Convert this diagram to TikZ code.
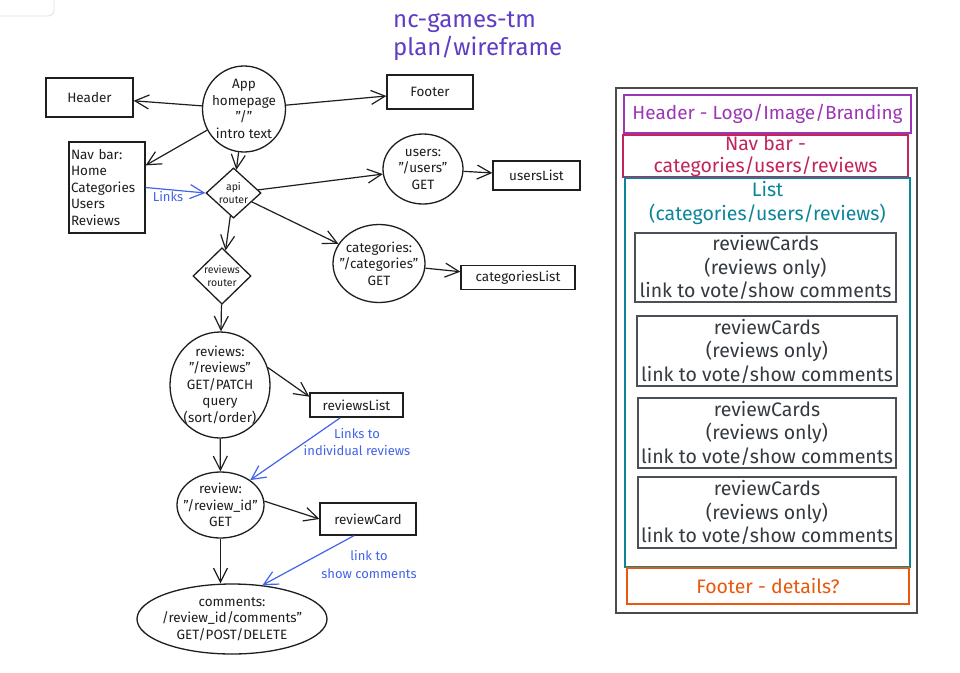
\documentclass[tikz,border=0pt]{standalone}
\usepackage{fontspec}
\setmainfont{Fira Sans}
\usetikzlibrary{arrows.meta,shapes.geometric}
\definecolor{ink}{HTML}{1E1E1E}
\definecolor{linkblue}{HTML}{4263EB}
\definecolor{titlec}{HTML}{5F3DC4}
\definecolor{hdrc}{HTML}{9C36B5}
\definecolor{navc}{HTML}{C2255C}
\definecolor{listc}{HTML}{0C8599}
\definecolor{footc}{HTML}{E8590C}
\definecolor{cardc}{HTML}{495057}
\definecolor{cardt}{HTML}{343A40}
\tikzset{
  box/.style={draw=ink, line width=1.3pt, rectangle, inner sep=0pt, align=center, text=ink, font=\fontsize{13.5}{16.5}\selectfont},
  circ/.style={draw=ink, line width=1.3pt, ellipse, inner sep=0pt},
  ctext/.style={inner sep=0pt, align=center, text=ink, font=\fontsize{13.5}{16.5}\selectfont},
  dia/.style={draw=ink, line width=1.3pt, diamond, inner sep=0pt, align=center, text=ink, font=\fontsize{10.5}{12.5}\selectfont},
  arr/.style={draw=ink, line width=1.2pt, -{Straight Barb[length=14pt,width=14pt,line width=1.2pt]}},
  link/.style={draw=linkblue, line width=1.2pt, -{Straight Barb[length=14pt,width=14pt,line width=1.2pt]}},
  lbl/.style={text=linkblue, inner sep=0pt, align=center, font=\fontsize{13}{17.5}\selectfont},
  pbox/.style={rectangle, line width=1.3pt, inner sep=0pt, align=center, font=\fontsize{19.5}{23.5}\selectfont},
  card/.style={pbox, draw=cardc, text=cardt},
}
\begin{document}
\begin{tikzpicture}[x=1pt,y=-1pt]
\useasboundingbox (0,0) rectangle (960,672);
\fill[white] (0,0) rectangle (960,672);
\draw[black!12, line width=0.8pt, rounded corners=6pt] (-10,-10) rectangle (54,16);

% title
\node[anchor=north west, inner sep=0pt, align=left, text=titlec, font=\fontsize{24}{28}\selectfont] (title) at (393,12) {nc-games-tm\\plan/wireframe};

% left diagram nodes
\node[box, minimum width=87, minimum height=39] (header) at (89.5,97.5) {Header};
\node[circ, minimum width=83, minimum height=86] (app) at (244,109) {};
\node[ctext] (apptext) at (app.center) {App\\homepage\\"/"\\intro text};
\node[box, minimum width=86, minimum height=34] (footer) at (430,92) {Footer};
\node[box, minimum width=76, minimum height=91, text width=72, align=left] (nav) at (107,187.5) {Nav bar:\\Home\\Categories\\Users\\Reviews};
\node[dia, minimum width=55, minimum height=47] (api) at (233.5,193) {api\\router};
\node[circ, minimum width=80, minimum height=70] (users) at (423,169) {};
\node[ctext] (userstext) at (users.center) {users:\\"/users"\\GET};
\node[box, minimum width=87, minimum height=29] (userslist) at (536.5,175.5) {usersList};
\node[circ, minimum width=92, minimum height=78] (cats) at (379,263.5) {};
\node[ctext] (catstext) at (cats.center) {categories:\\"/categories"\\GET};
\node[box, minimum width=114, minimum height=24] (catslist) at (518,277.5) {categoriesList};
\node[dia, minimum width=58, minimum height=46] (rr) at (222,276) {reviews\\router};
\node[circ, minimum width=100, minimum height=106] (reviews) at (220,385) {};
\node[ctext] (reviewstext) at (reviews.center) {reviews:\\"/reviews"\\GET/PATCH\\query\\(sort/order)};
\node[box, minimum width=93, minimum height=24] (reviewslist) at (356.5,405) {reviewsList};
\node[circ, minimum width=87, minimum height=66] (review) at (220.5,505) {};
\node[ctext] (reviewtext) at (review.center) {review:\\"/review\_id"\\GET};
\node[box, minimum width=96, minimum height=32] (reviewcard) at (368,519) {reviewCard};
\node[circ, minimum width=190, minimum height=70] (comments) at (232,619) {};
\node[ctext] (commentstext) at (comments.center) {comments:\\/review\_id/comments"\\GET/POST/DELETE};

% labels
\node[lbl] (linkslbl) at (168,197) {Links};
\node[lbl] (indivlbl) at (357,442) {Links to\\individual reviews};
\node[lbl] (showlbl) at (369,564.5) {link to\\show comments};

% connectors
\draw[arr] (app) -- (header);
\draw[arr] (app) -- (footer);
\draw[arr] (app) -- (nav);
\draw[arr] (app) -- (api);
\draw[link] (nav.east) -- (api.west);
\draw[arr] (api) -- (users);
\draw[arr] (api) -- (cats);
\draw[arr] (api) -- (rr);
\draw[arr] (users) -- (userslist);
\draw[arr] (cats) -- (catslist);
\draw[arr] (rr) -- (reviews);
\draw[arr] (reviews.20) -- (reviewslist.170);
\draw[arr] (reviews) -- (review);
\draw[link] ([xshift=-16pt]reviewslist.south) -- (review.40);
\draw[arr] (review.5) -- (reviewcard.west);
\draw[arr] (review.south) -- (review.south |- comments.north);
\draw[link] ([xshift=-14pt]reviewcard.south) -- (comments.48);

% right wireframe panel
\node[pbox, draw=ink!80, line width=1.6pt, minimum width=301, minimum height=525] (panel) at (766.5,350.5) {};
\node[pbox, draw=hdrc, text=hdrc, minimum width=287, minimum height=38, font=\fontsize{19}{23}\selectfont] (phead) at (767.5,114) {Header - Logo/Image/Branding};
\node[pbox, draw=navc, text=navc, minimum width=285, minimum height=42, font=\fontsize{19.5}{22}\selectfont] (pnav) at (765.5,156) {Nav bar -\\categories/users/reviews};
\node[pbox, draw=listc, minimum width=285, minimum height=389] (plist) at (767.5,372.5) {};
\node[pbox, text=listc] (plisttitle) at (767.5,203) {List\\(categories/users/reviews)};
\node[card, minimum width=261, minimum height=69] (card1) at (765.5,267.5) {reviewCards\\(reviews only)\\link to vote/show comments};
\node[card, minimum width=260, minimum height=70] (card2) at (767,351) {reviewCards\\(reviews only)\\link to vote/show comments};
\node[card, minimum width=258, minimum height=70] (card3) at (767,433) {reviewCards\\(reviews only)\\link to vote/show comments};
\node[card, minimum width=258, minimum height=71] (card4) at (767,512.5) {reviewCards\\(reviews only)\\link to vote/show comments};
\node[pbox, draw=footc, text=footc, minimum width=282, minimum height=36] (pfoot) at (768,586) {Footer - details?};
\end{tikzpicture}
\end{document}
